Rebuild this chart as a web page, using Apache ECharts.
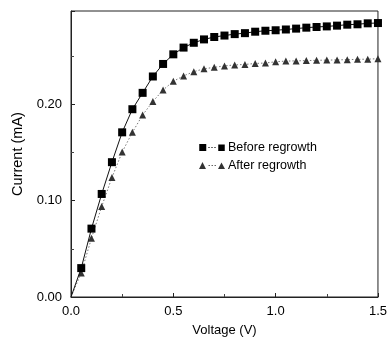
<!DOCTYPE html>
<html>
<head>
<meta charset="utf-8">
<script src="https://cdn.jsdelivr.net/npm/echarts@6/dist/echarts.min.js"></script>
<style>html,body{margin:0;padding:0;background:#fff;}#c{width:390px;height:342px;}</style>
</head>
<body>
<div id="c"></div>
<script>
var voltage = [0, 0.05, 0.10, 0.15, 0.20, 0.25, 0.30, 0.35, 0.40, 0.45, 0.50, 0.55, 0.60, 0.65, 0.70, 0.75, 0.80, 0.85, 0.90, 0.95, 1.00, 1.05, 1.10, 1.15, 1.20, 1.25, 1.30, 1.35, 1.40, 1.45, 1.50];
var beforeRegrowth = [0, 0.030, 0.071, 0.107, 0.140, 0.171, 0.195, 0.212, 0.229, 0.242, 0.252, 0.259, 0.264, 0.2675, 0.270, 0.2715, 0.273, 0.274, 0.2755, 0.2765, 0.277, 0.2778, 0.2787, 0.2797, 0.2804, 0.281, 0.2818, 0.2828, 0.2832, 0.2842, 0.2845];
var afterRegrowth = [0, 0.025, 0.061, 0.094, 0.124, 0.1505, 0.171, 0.189, 0.203, 0.215, 0.224, 0.2296, 0.234, 0.237, 0.2385, 0.240, 0.241, 0.2415, 0.2425, 0.243, 0.2443, 0.245, 0.2452, 0.2455, 0.2458, 0.246, 0.2462, 0.2465, 0.2468, 0.247, 0.2475];
var seriesNames = ['Before regrowth', 'After regrowth'];
var xTicks = ['0.0', '0.5', '1.0', '1.5'];
var yTicks = ['0.00', '0.10', '0.20'];

var FONT = "'Liberation Sans', Arial, sans-serif";

function pairs(vals) {
  return voltage.map(function (v, i) {
    var item = { value: [v, vals[i]] };
    if (i === 0) item.symbol = 'none';
    return item;
  });
}

var chart = echarts.init(document.getElementById('c'), null, { renderer: 'canvas' });
chart.setOption({
  animation: false,
  backgroundColor: '#fff',
  grid: { left: 71, right: 9, top: 11, bottom: 41, show: true, borderColor: '#222', borderWidth: 1, containLabel: false },
  legend: {
    orient: 'vertical', left: 194, top: 136, itemGap: 5,
    itemWidth: 26, itemHeight: 7,
    textStyle: { fontFamily: FONT, fontSize: 12.5, color: '#000', padding: [0, 0, 0, -2] },
    data: [
      { name: seriesNames[0], icon: 'path://M0,0h7v7h-7z M9,3.2h1.5v0.7h-1.5z M12,3.2h1.5v0.7h-1.5z M15,3.2h1.5v0.7h-1.5z M19,0.5h6.5v6.5h-6.5z' },
      { name: seriesNames[1], icon: 'path://M3,0L6.5,7H-0.5z M9,3.2h1.5v0.7h-1.5z M12,3.2h1.5v0.7h-1.5z M15,3.2h1.5v0.7h-1.5z M22,0.5L25.5,7H18.5z' }
    ]
  },
  xAxis: {
    type: 'value', min: 0, max: 1.5, interval: 0.5,
    name: 'Voltage (V)', nameLocation: 'middle', nameGap: 27,
    nameTextStyle: { fontFamily: FONT, fontSize: 13, color: '#000' },
    axisLine: { lineStyle: { color: '#222', width: 1 } },
    axisTick: { inside: true, length: 4, lineStyle: { color: '#222' } },
    minorTick: { show: true, splitNumber: 2, length: 3, lineStyle: { color: '#444' } },
    splitLine: { show: false },
    axisLabel: { fontFamily: FONT, fontSize: 13, color: '#000', margin: 8,
      formatter: function (v) { var i = Math.round(v / 0.5); return xTicks[i] !== undefined ? xTicks[i] : ''; } }
  },
  yAxis: {
    type: 'value', min: 0, max: 0.297, interval: 0.1,
    name: 'Current (mA)', nameLocation: 'middle', nameGap: 42, nameRotate: 90,
    nameTextStyle: { fontFamily: FONT, fontSize: 14.5, color: '#000' },
    axisLine: { show: true, lineStyle: { color: '#222', width: 1 } },
    axisTick: { show: true, inside: true, length: 4, lineStyle: { color: '#222' } },
    minorTick: { show: true, splitNumber: 2, length: 3, lineStyle: { color: '#444' } },
    splitLine: { show: false },
    axisLabel: { fontFamily: FONT, fontSize: 13, color: '#000', margin: 9, showMaxLabel: false,
      formatter: function (v) { var i = Math.round(v / 0.1); return yTicks[i] !== undefined ? yTicks[i] : ''; } }
  },
  series: [
    {
      name: seriesNames[0], type: 'line', data: pairs(beforeRegrowth),
      symbol: 'rect', symbolSize: 8,
      itemStyle: { color: '#000' },
      lineStyle: { color: '#111', width: 1, type: 'solid' },
      z: 3
    },
    {
      name: seriesNames[1], type: 'line', data: pairs(afterRegrowth),
      symbol: 'triangle', symbolSize: 7,
      itemStyle: { color: '#333' },
      lineStyle: { color: '#777', width: 1, type: [1.5, 2] },
      z: 2
    }
  ]
});
</script>
</body>
</html>
